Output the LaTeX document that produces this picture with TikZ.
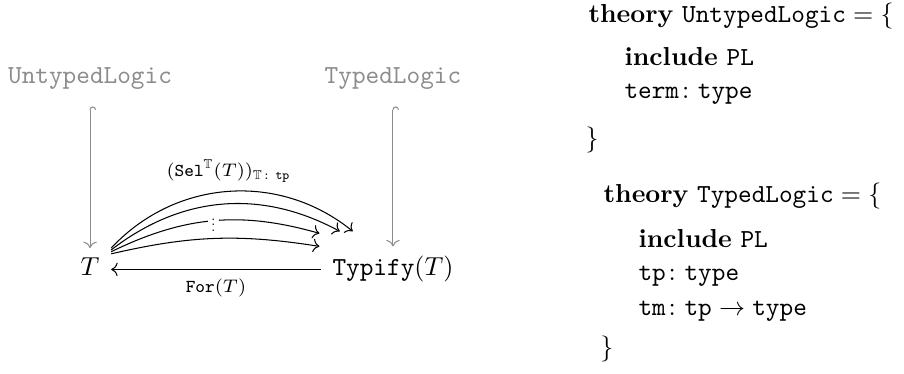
\documentclass[tikz,border=0pt]{standalone}
\usepackage{amsmath,amssymb}
\usetikzlibrary{arrows.meta,positioning}

\begin{document}
\begin{tikzpicture}[
  cell/.style={anchor=base, inner xsep=1ex, inner ysep=0.85ex},
  codeline/.style={anchor=base west, inner sep=0pt},
  mor/.style={-{Computer Modern Rightarrow}},
  incl/.style={black!45, {Hooks[right]}-{Computer Modern Rightarrow}, shorten <=2.5pt},
  lbl/.style={font=\scriptsize}]
\useasboundingbox (0,0) rectangle (12.22,5.055);
% diagram
\node[cell, text=black!45](U) at (1.217,3.92){\texttt{UntypedLogic}};
\node[cell, text=black!45](TL) at (5.312,3.92){\texttt{TypedLogic}};
\node[cell](T) at (1.217,1.325){$T$};
\node[cell](Ty) at (5.312,1.325){$\mathtt{Typify}(T)$};
\draw[incl] (U) -- (T);
\draw[incl] (TL) -- (Ty);
\draw[mor] ([yshift=2.5pt]Ty.base west) -- ([yshift=2.5pt]T.base east) node [midway, below, lbl]{$\mathtt{For}(T)$};
% the family of arrows T -> Typify(T)
\draw[mor] ([yshift=-2.2pt]T.north east) to[bend left=11] ([xshift=-0.5pt]Ty.north west);
\draw[mor] ([yshift=-1.4pt]T.north east) to[bend left=21] node [midway, fill=white, inner sep=2.5pt, scale=0.55]{$\vdots$} ([shift={(-0.5pt,5pt)}]Ty.north west);
\draw[mor] ([yshift=-0.7pt]T.north east) to[bend left=33] ([shift={(7.3pt,5.8pt)}]Ty.north west);
\draw[mor] (T.north east) to[bend left=43] node [midway, above, lbl]{$(\mathtt{Sel}^{\mathbb{T}}(T))_{\mathbb{T}\colon\mathtt{tp}}$} ([shift={(12.3pt,5.8pt)}]Ty.north west);
% theories
\node[codeline](th1) at (7.948,4.745){$\textbf{theory}\ \mathtt{UntypedLogic} = \{$};
\node[codeline](inc1) at (8.435,4.163){\textbf{include} \texttt{PL}};
\node[codeline](term) at (8.435,3.717){$\mathtt{term}\colon\mathtt{type}$};
\node[codeline](cl1) at (7.908,3.068){$\}$};
\node[codeline](th2) at (8.151,2.311){$\textbf{theory}\ \mathtt{TypedLogic} = \{$};
\node[codeline](inc2) at (8.624,1.703){\textbf{include} \texttt{PL}};
\node[codeline](tp) at (8.624,1.257){$\mathtt{tp}\colon\mathtt{type}$};
\node[codeline](tm) at (8.624,0.784){$\mathtt{tm}\colon\mathtt{tp}\to\mathtt{type}$};
\node[codeline](cl2) at (8.110,0.243){$\}$};
\end{tikzpicture}
\end{document}
